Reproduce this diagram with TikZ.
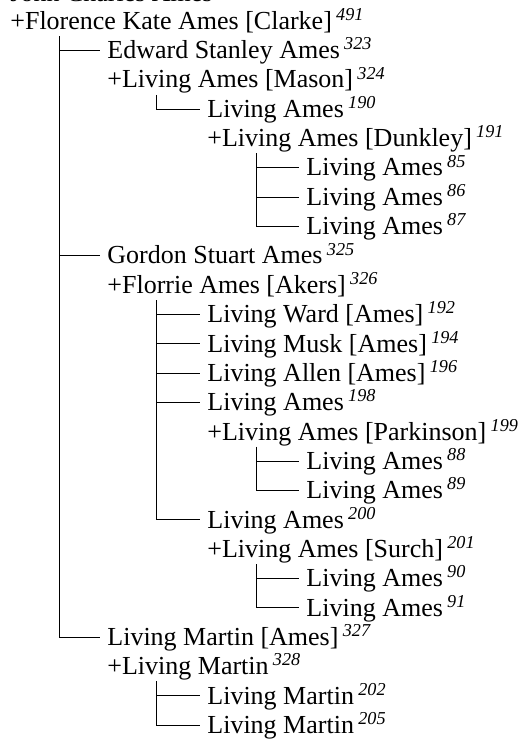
\documentclass[tikz,border=0pt]{standalone}
\usepackage{fontspec}
\setmainfont{Liberation Serif}
\usepackage{tikz}
\newcommand\gid[1]{\,\textsuperscript{\textit{#1}}}

\begin{document}
\begin{tikzpicture}[x=0.5pt, y=-0.5pt,
  person/.style={anchor=base west, inner xsep=3.5pt, inner ysep=1pt,
                 text height=1.05em, text depth=0.22em,
                 font=\fontsize{13}{15}\selectfont},
  branch/.style={line width=0.5pt, black},
]
\useasboundingbox (0,0) rectangle (531,742);

% head of family
\node[person] (n0) at (3,2) {John Charles Ames};
\node[person] (n1) at (3,29.33) {+Florence Kate Ames [Clarke]\gid{491}};

% Edward
\node[person] (n2) at (100,58.67) {Edward Stanley Ames\gid{323}};
\node[person] (n3) at (100,88) {+Living Ames [Mason]\gid{324}};
\node[person] (n4) at (200,117.33) {Living Ames\gid{190}};
\node[person] (n5) at (200,146.67) {+Living Ames [Dunkley]\gid{191}};
\node[person] (n6) at (299,176) {Living Ames\gid{85}};
\node[person] (n7) at (299,205.33) {Living Ames\gid{86}};
\node[person] (n8) at (299,234.67) {Living Ames\gid{87}};

% Gordon
\node[person] (n9) at (100,264) {Gordon Stuart Ames\gid{325}};
\node[person] (n10) at (100,293.33) {+Florrie Ames [Akers]\gid{326}};
\node[person] (n11) at (200,322.67) {Living Ward [Ames]\gid{192}};
\node[person] (n12) at (200,352) {Living Musk [Ames]\gid{194}};
\node[person] (n13) at (200,381.33) {Living Allen [Ames]\gid{196}};
\node[person] (n14) at (200,410.67) {Living Ames\gid{198}};
\node[person] (n15) at (200,440) {+Living Ames [Parkinson]\gid{199}};
\node[person] (n16) at (299,469.33) {Living Ames\gid{88}};
\node[person] (n17) at (299,498.67) {Living Ames\gid{89}};
\node[person] (n18) at (200,528) {Living Ames\gid{200}};
\node[person] (n19) at (200,557.33) {+Living Ames [Surch]\gid{201}};
\node[person] (n20) at (299,586.67) {Living Ames\gid{90}};
\node[person] (n21) at (299,616) {Living Ames\gid{91}};

% Martin
\node[person] (n22) at (100,645.33) {Living Martin [Ames]\gid{327}};
\node[person] (n23) at (100,674.67) {+Living Martin\gid{328}};
\node[person] (n24) at (200,704) {Living Martin\gid{202}};
\node[person] (n25) at (200,733.33) {Living Martin\gid{205}};

% tree lines: couple -> child
\foreach \s/\c in {1/2,1/9,1/22, 3/4, 5/6,5/7,5/8,
                   10/11,10/12,10/13,10/14,10/18,
                   15/16,15/17, 19/20,19/21, 23/24,23/25}
  \draw[branch] ([xshift=28pt]n\s.south west) |- (n\c.west);

\end{tikzpicture}
\end{document}
